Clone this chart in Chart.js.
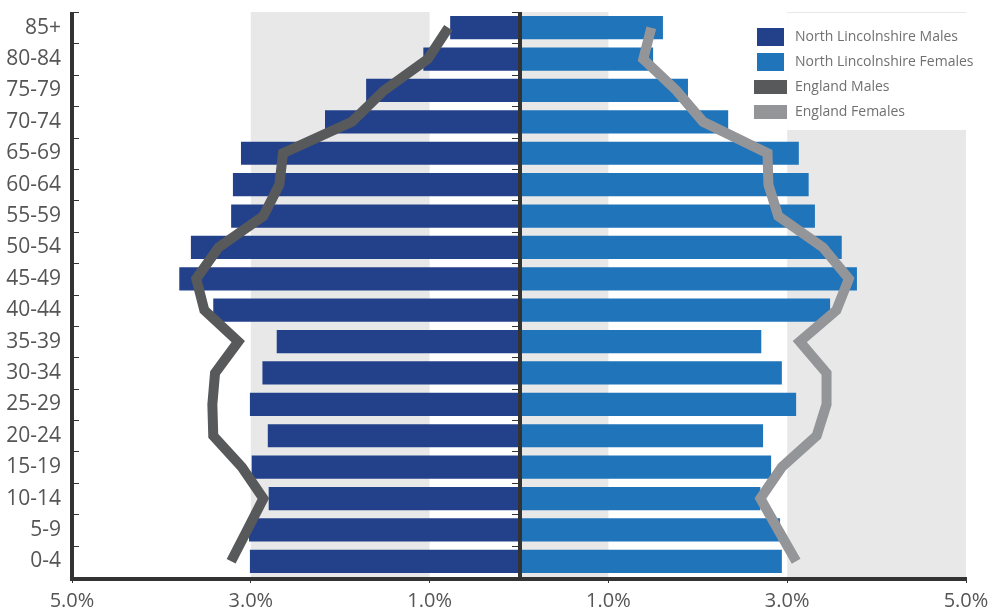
<!DOCTYPE html>
<html>
<head>
<meta charset="utf-8">
<script src="https://cdn.jsdelivr.net/npm/chart.js@4.4.1/dist/chart.umd.min.js"></script>
<style>
  html, body { margin: 0; padding: 0; background: #ffffff; overflow: hidden; }
  #wrap { width: 992px; height: 614px; position: relative; }
  #chart { display: block; }
</style>
</head>
<body>
<div id="wrap"><canvas id="chart" width="992" height="614" style="width:992px;height:614px"></canvas></div>
<script>
// ---- Data (percent of total population) ----
const ageGroups = ['0-4','5-9','10-14','15-19','20-24','25-29','30-34','35-39','40-44','45-49','50-54','55-59','60-64','65-69','70-74','75-79','80-84','85+'];
const nlMales   = [3.01, 3.02, 2.80, 2.99, 2.81, 3.01, 2.87, 2.71, 3.42, 3.80, 3.67, 3.22, 3.20, 3.11, 2.17, 1.71, 1.07, 0.77];
const nlFemales = [2.94, 2.92, 2.70, 2.82, 2.73, 3.10, 2.94, 2.71, 3.48, 3.78, 3.61, 3.31, 3.24, 3.13, 2.34, 1.89, 1.50, 1.61];
const engMales   = [3.22, 3.04, 2.86, 3.10, 3.42, 3.43, 3.40, 3.14, 3.52, 3.61, 3.36, 2.86, 2.68, 2.64, 1.87, 1.51, 1.02, 0.79];
const engFemales = [3.10, 2.90, 2.70, 2.94, 3.33, 3.44, 3.44, 3.14, 3.55, 3.69, 3.40, 2.90, 2.79, 2.78, 2.06, 1.76, 1.39, 1.48];
const xTickValues = [-5, -3, -1, 1, 3, 5];
const seriesNames = ['North Lincolnshire Males', 'North Lincolnshire Females', 'England Males', 'England Females'];

const COL_M = '#23418a', COL_F = '#1f74ba', COL_EM = '#58595b', COL_EF = '#939598';
const AXIS = '#333333', BAND = '#e8e8e8';
const FONT = "'Open Sans', 'DejaVu Sans', sans-serif";

const negate = arr => arr.map(v => -v);

// shaded vertical bands (value ranges on the x scale)
const bands = [[-3, -1], [0, 1], [3, 5]];

const bandsPlugin = {
  id: 'bands',
  beforeDatasetsDraw(chart) {
    const { ctx, chartArea: a, scales: { x } } = chart;
    ctx.save();
    ctx.fillStyle = BAND;
    bands.forEach(([lo, hi]) => {
      const x0 = x.getPixelForValue(lo), x1 = x.getPixelForValue(hi);
      ctx.fillRect(x0, a.top, x1 - x0, a.bottom - a.top);
    });
    // legend box (white) over the upper right
    const lx0 = x.getPixelForValue(3);
    ctx.fillStyle = '#ffffff';
    ctx.fillRect(lx0, a.top + 1, a.right - lx0, 117);
    ctx.restore();
  }
};

const axesPlugin = {
  id: 'axesLines',
  afterDatasetsDraw(chart) {
    const { ctx, chartArea: a, scales: { x } } = chart;
    ctx.save();
    ctx.strokeStyle = AXIS;
    // category boundary ticks
    ctx.lineWidth = 1;
    const n = ageGroups.length;
    const step = (a.bottom - a.top) / n;
    const cx = x.getPixelForValue(0);
    for (let i = 0; i < n; i++) {
      const yy = Math.round(a.top + i * step) + 0.5;
      ctx.beginPath();
      ctx.moveTo(a.left, yy); ctx.lineTo(a.left + 7, yy);
      ctx.moveTo(cx - 7, yy); ctx.lineTo(cx, yy);
      ctx.stroke();
    }
    ctx.lineWidth = 4;
    ctx.lineCap = 'butt';
    ctx.beginPath();
    ctx.moveTo(a.left, a.top); ctx.lineTo(a.left, a.bottom + 2);
    ctx.lineTo(a.right, a.bottom + 2);
    ctx.moveTo(cx + 1, a.top); ctx.lineTo(cx + 1, a.bottom);
    ctx.stroke();
    ctx.restore();
  }
};

const legendPlugin = {
  id: 'customLegend',
  afterDraw(chart) {
    const { ctx } = chart;
    const colors = [COL_M, COL_F, COL_EM, COL_EF];
    ctx.save();
    ctx.font = "14px " + FONT;
    ctx.textBaseline = 'middle';
    ctx.textAlign = 'left';
    seriesNames.forEach((name, i) => {
      const cy = 37 + i * 25;
      ctx.fillStyle = colors[i];
      if (i < 2) ctx.fillRect(757, cy - 9, 27, 18);
      else ctx.fillRect(754, cy - 7, 33, 14);
      ctx.fillStyle = '#707070';
      ctx.fillText(name, 795, cy);
    });
    ctx.restore();
  }
};

new Chart(document.getElementById('chart'), {
  type: 'bar',
  data: {
    labels: ageGroups,
    datasets: [
      { type: 'line', label: seriesNames[2], data: negate(engMales), borderColor: COL_EM, borderWidth: 10,
        pointRadius: 0, fill: false, tension: 0, order: 0 },
      { type: 'line', label: seriesNames[3], data: engFemales, borderColor: COL_EF, borderWidth: 10,
        pointRadius: 0, fill: false, tension: 0, order: 0 },
      { label: seriesNames[0], data: negate(nlMales), backgroundColor: COL_M, order: 1,
        grouped: false, barPercentage: 0.74, categoryPercentage: 1 },
      { label: seriesNames[1], data: nlFemales, backgroundColor: COL_F, order: 1,
        grouped: false, barPercentage: 0.74, categoryPercentage: 1 }
    ]
  },
  options: {
    indexAxis: 'y',
    responsive: false,
    animation: false,
    devicePixelRatio: 1,
    layout: { padding: { top: 12, right: 26, left: 0, bottom: 0 } },
    plugins: { legend: { display: false }, tooltip: { enabled: false } },
    scales: {
      x: {
        type: 'linear', min: -5, max: 5,
        afterBuildTicks: s => { s.ticks = xTickValues.map(v => ({ value: v })); },
        afterFit: s => { s.height = 37; s.paddingLeft = 0; s.paddingRight = 0; },
        grid: { display: true, drawOnChartArea: false, drawTicks: true, tickLength: 6, color: AXIS, lineWidth: 1 },
        border: { display: false },
        ticks: { padding: 6, color: '#555555', font: { family: FONT, size: 20 },
                 maxRotation: 0, autoSkip: false,
                 callback: v => Math.abs(v).toFixed(1) + '%' }
      },
      y: {
        type: 'category', reverse: true, offset: true,
        afterFit: s => { s.width = 72; s.paddingTop = 0; s.paddingBottom = 0; },
        grid: { display: false, drawTicks: false },
        border: { display: false },
        ticks: { padding: 11, color: '#555555', font: { family: FONT, size: 21 }, autoSkip: false }
      }
    }
  },
  plugins: [bandsPlugin, axesPlugin, legendPlugin]
});
</script>
</body>
</html>
